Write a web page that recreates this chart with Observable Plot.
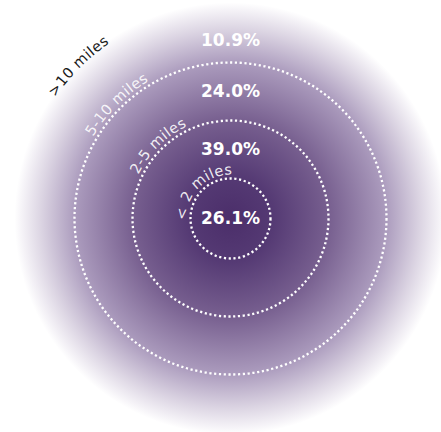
<!DOCTYPE html>
<html>
<head>
<meta charset="utf-8">
<script src="https://cdn.jsdelivr.net/npm/d3@7"></script>
<script src="https://cdn.jsdelivr.net/npm/@observablehq/plot@0.6"></script>
<style>
  html, body { margin: 0; padding: 0; background: #ffffff; }
  #chart { width: 441px; height: 432px; }
</style>
</head>
<body>
<div id="chart"></div>
<script>
// ---- data ----
const bands = ["< 2 miles", "2-5 miles", "5-10 miles", ">10 miles"];
const shares = [26.1, 39.0, 24.0, 10.9];
const shareLabels = shares.map(d => d.toFixed(1) + "%");

// ---- layout ----
const W = 441, H = 432, CX = 230, CY = 218;
const ringPx = [40, 98, 156, 200];     // outer edge (px) of each band; last is label bound
const glowR = 216;
const labelFont = "DejaVu Sans";
const arcFontSize = 14.5, arcSpacing = 0.4;
const arcRadius = [44, 102, 160, 213];  // baseline radius of each curved band name
const arcAngle = -45;                   // centre angle, degrees clockwise from top

const labelR = ringPx.map((r, i) => i === 0 ? 0 : (ringPx[i - 1] + r) / 2);

// curved band names: one glyph per datum, placed along an arc
const ctx = document.createElement("canvas").getContext("2d");
ctx.font = `${arcFontSize}px "${labelFont}"`;
const glyphs = [];
bands.forEach((b, i) => {
  const rb = arcRadius[i];
  const chars = [...b];
  const widths = chars.map(c => ctx.measureText(c).width);
  const total = d3.sum(widths) + arcSpacing * (chars.length - 1);
  let s = -total / 2;
  chars.forEach((c, j) => {
    const mid = s + widths[j] / 2;
    const th = arcAngle * Math.PI / 180 + mid / rb;
    const rr = rb + 0.32 * arcFontSize;
    glyphs.push({
      ch: c,
      x: rr * Math.sin(th),
      y: -rr * Math.cos(th),
      rotate: th * 180 / Math.PI,
      color: i === 3 ? "#1a1a1a" : "#ffffff",
      alpha: i === 3 ? 1 : 0.9
    });
    s += widths[j] + arcSpacing;
  });
});

const svg = Plot.plot({
  width: W,
  height: H,
  margin: 0,
  x: {domain: [-CX, W - CX], range: [0, W], axis: null},
  y: {domain: [-CY, H - CY], range: [0, H], axis: null},
  r: {type: "identity"},
  opacity: {type: "identity"},
  marks: [
    Plot.dot([glowR], {x: 0, y: 0, r: d => d, fill: "url(#glow)"}),
    Plot.dot(ringPx.slice(0, 3), {
      x: 0, y: 0, r: d => d, fill: "none",
      stroke: "white", strokeWidth: 2.3, strokeDasharray: "2.2 2.6"
    }),
    Plot.text(bands, {
      x: 0, y: (d, i) => -labelR[i], text: (d, i) => shareLabels[i],
      fill: "white", fontSize: 17, fontWeight: "bold", fontFamily: labelFont
    }),
    Plot.text(glyphs, {
      x: "x", y: "y", text: "ch", rotate: "rotate",
      fill: "color", fillOpacity: "alpha",
      fontSize: arcFontSize, fontFamily: labelFont
    })
  ]
});

const defs = d3.select(svg).insert("defs", ":first-child");
const grad = defs.append("radialGradient").attr("id", "glow")
  .attr("cx", "50%").attr("cy", "50%").attr("r", "50%");
[[0, "#4b2e6a"], [0.2, "#553a74"], [0.46, "#786090"], [0.72, "#ab9bbd"],
 [0.88, "#dcd5e3"], [0.97, "#f6f4f8"], [1, "#ffffff"]]
  .forEach(([o, c]) => grad.append("stop").attr("offset", o).attr("stop-color", c));

document.getElementById("chart").appendChild(svg);
</script>
</body>
</html>
